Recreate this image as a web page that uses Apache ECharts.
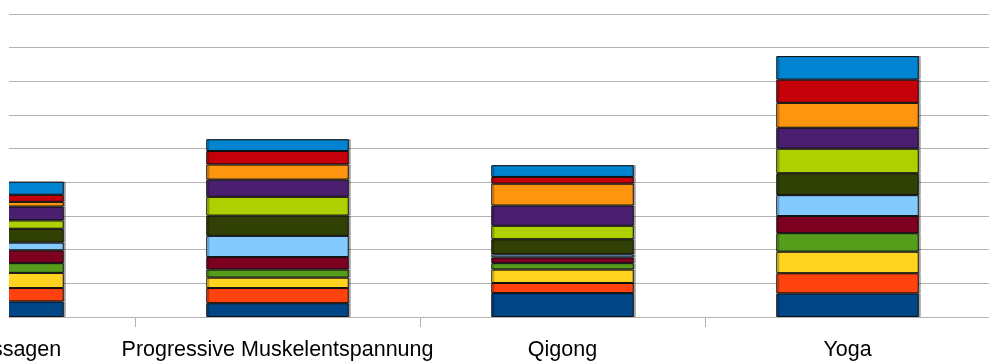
<!DOCTYPE html>
<html>
<head>
<meta charset="utf-8">
<script src="https://cdn.jsdelivr.net/npm/echarts@6/dist/echarts.min.js"></script>
<style>
  html, body { margin: 0; padding: 0; background: #fff; overflow: hidden; width: 989px; height: 363px; }
  #wrap { position: absolute; left: 0; top: 0; width: 989px; height: 363px; overflow: hidden; }
  #chart { position: absolute; left: -150px; top: 0; width: 1140px; height: 363px; }
</style>
</head>
<body>
<div id="wrap"><div id="chart"></div></div>
<script>
// Entspannungsverfahren (x axis)
const categories = ['Fußmassagen', 'Progressive Muskelentspannung', 'Qigong', 'Yoga'];

// stacked groups, bottom to top
const seriesNames = ['Gruppe 1', 'Gruppe 2', 'Gruppe 3', 'Gruppe 4', 'Gruppe 5', 'Gruppe 6',
                     'Gruppe 7', 'Gruppe 8', 'Gruppe 9', 'Gruppe 10', 'Gruppe 11', 'Gruppe 12'];

const g1  = [0.46, 0.41, 0.71, 0.70];
const g2  = [0.40, 0.45, 0.30, 0.60];
const g3  = [0.45, 0.31, 0.40, 0.64];
const g4  = [0.29, 0.24, 0.19, 0.55];
const g5  = [0.38, 0.37, 0.17, 0.51];
const g6  = [0.23, 0.63, 0.09, 0.62];
const g7  = [0.41, 0.60, 0.45, 0.65];
const g8  = [0.25, 0.56, 0.40, 0.73];
const g9  = [0.41, 0.51, 0.60, 0.62];
const g10 = [0.14, 0.45, 0.65, 0.74];
const g11 = [0.21, 0.40, 0.20, 0.69];
const g12 = [0.39, 0.35, 0.35, 0.70];
const values = [g1, g2, g3, g4, g5, g6, g7, g8, g9, g10, g11, g12];

const palette = ['#004586', '#ff420e', '#ffd320', '#579d1c', '#7e0021', '#83caff',
                 '#314004', '#aecf00', '#4b1f6f', '#ff950e', '#c5000b', '#0084d1'];

const yMin = 0, yMax = 9, yStep = 1;

const chart = echarts.init(document.getElementById('chart'), null, { renderer: 'canvas' });

chart.setOption({
  animation: false,
  backgroundColor: '#ffffff',
  color: palette,
  grid: { left: 0, right: 0, top: 14, bottom: 46, containLabel: false },
  xAxis: {
    type: 'category',
    data: categories,
    axisLine: { show: true, lineStyle: { color: '#b3b3b3', width: 1 } },
    axisTick: { show: true, length: 10, lineStyle: { color: '#b3b3b3', width: 1 } },
    axisLabel: {
      color: '#000',
      fontFamily: 'Liberation Sans',
      fontSize: 21.5,
      margin: 22,
      interval: 0
    },
    splitLine: { show: false }
  },
  yAxis: {
    type: 'value',
    min: yMin,
    max: yMax,
    interval: yStep,
    axisLine: { show: false },
    axisTick: { show: false },
    axisLabel: { show: false },
    splitLine: { show: true, lineStyle: { color: '#b3b3b3', width: 1 } }
  },
  series: values.map((v, i) => ({
    name: seriesNames[i],
    type: 'bar',
    stack: 'gesamt',
    data: v,
    barWidth: '50%',
    clip: true,
    itemStyle: {
      color: palette[i],
      borderColor: '#111',
      borderWidth: 1,
      shadowColor: 'rgba(0,0,0,0.3)',
      shadowOffsetX: 2,
      shadowOffsetY: 0,
      shadowBlur: 0
    }
  })),
  graphic: [{
    // blank strip along the left edge of the plot
    type: 'rect',
    left: 150,
    top: 0,
    shape: { width: 9, height: 319 },
    style: { fill: '#ffffff' },
    z: 100,
    silent: true
  }]
});
</script>
</body>
</html>
